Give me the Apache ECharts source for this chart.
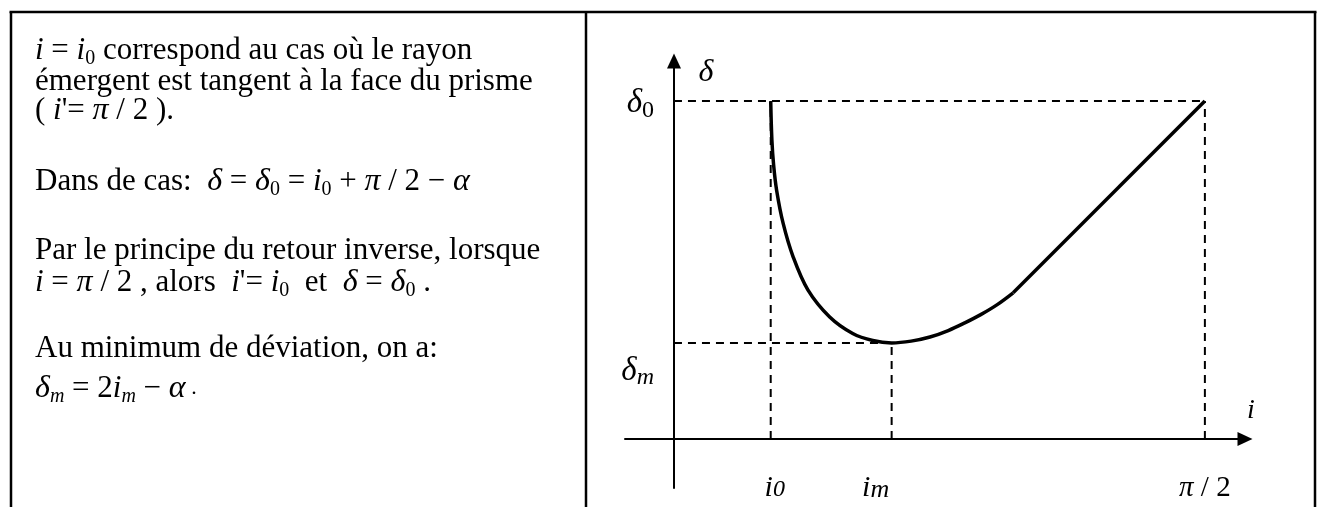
<!DOCTYPE html>
<html>
<head>
<meta charset="utf-8">
<script src="https://cdn.jsdelivr.net/npm/echarts@6/dist/echarts.min.js"></script>
<style>
  html, body { margin: 0; padding: 0; background: #fff; }
  #chart { width: 1317px; height: 507px; }
</style>
</head>
<body>
<div id="chart"></div>
<script>
// Deviation curve delta(i) of a prism, schematic, angles in degrees
const curveI     = [16.4, 16.6, 16.9, 17.4, 18.5, 20.2, 22.7, 26.4, 30.3, 33.7, 36.9, 40.2, 43.4, 46.5, 49.3, 52.0, 54.8, 57.5];
const curveDelta = [57.3, 50.7, 46.4, 42.2, 36.6, 30.9, 25.3, 20.7, 17.9, 16.7, 16.3, 16.6, 17.3, 18.4, 19.7, 21.1, 22.8, 24.8];
// straight branch up to grazing incidence
const lineI     = [57.5, 90];
const lineDelta = [24.8, 57.3];
// remarkable values
const i0 = 16.4, im = 36.9, halfPi = 90;
const delta0 = 57.3, deltaM = 16.3;
const xTicks = [i0, im, halfPi];
const yTicks = [delta0, deltaM];

const SERIF = "'Liberation Serif', 'Times New Roman', serif";

// dashed reference lines
const guides = [
  [[0, delta0], [halfPi, delta0]],
  [[i0, 0], [i0, delta0]],
  [[0, deltaM], [im, deltaM]],
  [[im, 0], [im, deltaM]],
  [[halfPi, 0], [halfPi, delta0]]
];

function near(a, b) { return Math.abs(a - b) < 1e-6; }

// rich text styles for the left-hand paragraph (zrender naming)
const FS = 31;
function tok(size, italic, padTop) {
  return { fontFamily: SERIF, fontSize: size, fontStyle: italic ? 'italic' : 'normal',
           fill: '#000', lineHeight: 40, verticalAlign: 'middle',
           padding: [padTop || 0, 0, 0, 0] };
}
const paraRich = {
  t: tok(FS, false),
  m: tok(FS, true),
  g: tok(32, true),
  s: tok(20, false, 17),
  sm: tok(20, true, 17),
  dot: tok(22, false)
};
const paraLines = [
  ['{m|i} = {m|i}{s|0} {t|correspond au cas où le rayon}', 60],
  ['{t|émergent est tangent à la face du prisme}', 91],
  ['{t|( }{m|i}{t|\'= }{g|π}{t| / 2 ).}', 120],
  ['{t|Dans de cas:  }{g|δ}{t| = }{g|δ}{s|0}{t| = }{m|i}{s|0}{t| + }{g|π}{t| / 2 − }{g|α}', 191],
  ['{t|Par le principe du retour inverse, lorsque}', 260],
  ['{m|i}{t| = }{g|π}{t| / 2 , alors  }{m|i}{t|\'= }{m|i}{s|0}{t|  et  }{g|δ}{t| = }{g|δ}{s|0}{t| .}', 292],
  ['{t|Au minimum de déviation, on a:}', 358],
  ['{g|δ}{sm|m}{t| = 2}{m|i}{sm|m}{t| − }{g|α}{dot| .}', 398]
];

const paraGraphics = paraLines.map(([text, baseline]) => ({
  type: 'text', x: 35, y: baseline - 9.5, silent: true,
  style: { text: text, fontFamily: SERIF, fontSize: FS, fill: '#000',
           align: 'left', verticalAlign: 'middle', lineHeight: 40, rich: paraRich }
}));

// table borders
const border = { stroke: '#000', lineWidth: 2.5 };
const frame = [
  { type: 'line', silent: true, shape: { x1: 9.5, y1: 12, x2: 1316.5, y2: 12 }, style: border },
  { type: 'line', silent: true, shape: { x1: 11, y1: 12, x2: 11, y2: 507 }, style: border },
  { type: 'line', silent: true, shape: { x1: 586, y1: 12, x2: 586, y2: 507 }, style: border },
  { type: 'line', silent: true, shape: { x1: 1315, y1: 12, x2: 1315, y2: 507 }, style: border }
];

// name of the horizontal axis, above its arrow
const xName = {
  type: 'text', x: 1247, y: 411, silent: true,
  style: { text: 'i', fontFamily: SERIF, fontSize: 28, fontStyle: 'italic', fill: '#000',
           align: 'left', verticalAlign: 'middle' }
};

function lab(size, italic, pad, lh) {
  return { fontFamily: SERIF, fontSize: size, fontStyle: italic ? 'italic' : 'normal',
           color: '#000', lineHeight: lh || 30, verticalAlign: 'middle', padding: pad || [0, 0, 0, 0] };
}

const chart = echarts.init(document.getElementById('chart'), null, { renderer: 'canvas' });
chart.setOption({
  animation: false,
  backgroundColor: '#fff',
  grid: { left: 625, right: 72, top: 61, bottom: 19, containLabel: false, outerBoundsMode: 'none' },
  xAxis: {
    type: 'value', min: -8.3, max: 96.8, position: 'bottom', offset: -49,
    splitLine: { show: false }, axisTick: { show: false },
    axisLine: { onZero: false, symbol: ['none', 'triangle'], symbolSize: [14, 15],
                lineStyle: { color: '#000', width: 2 } },
    axisLabel: {
      customValues: xTicks, margin: 34,
      formatter: function (v) {
        if (near(v, i0)) return '{ia|i}{ib|0}';
        if (near(v, im)) return '{ma|i}{mb|m}';
        return '{pa|π}{pb| / 2}';
      },
      rich: {
        ia: lab(30, true, [0, 0, 0, 8]),
        ib: lab(24, true, [4, 0, 0, 0]),
        ma: lab(30, true),
        mb: lab(26, true, [5, 32, 0, 0]),
        pa: lab(29, true),
        pb: lab(29, false)
      }
    }
  },
  yAxis: {
    type: 'value', min: -8.3, max: 64.1, position: 'left', offset: -49,
    splitLine: { show: false }, axisTick: { show: false },
    axisLine: { onZero: false, symbol: ['none', 'triangle'], symbolSize: [14, 15],
                lineStyle: { color: '#000', width: 2 } },
    axisLabel: {
      customValues: yTicks, margin: 20,
      formatter: function (v) {
        return near(v, delta0) ? '{da|δ}{db|0}' : '{ma|δ}{mb|m}';
      },
      rich: {
        da: lab(33, true, [4, 0, 0, 0], 40),
        db: lab(24, false, [19, 0, 0, 0], 40),
        ma: lab(33, true, [56, 0, 0, 0], 40),
        mb: lab(24, true, [70, 0, 0, 0], 40)
      }
    },
    name: 'δ', nameLocation: 'end', nameGap: -30, nameMoveOverlap: false,
    nameTextStyle: { fontFamily: SERIF, fontStyle: 'italic', fontSize: 32, color: '#000',
                     lineHeight: 36, padding: [0, 0, 0, 64] }
  },
  series: [
    ...guides.map(g => ({
      type: 'line', data: g, showSymbol: false, silent: true, z: 1,
      lineStyle: { color: '#000', width: 2, type: [8, 6] }
    })),
    {
      type: 'line', data: curveI.map((x, k) => [x, curveDelta[k]]),
      smooth: 0.35, showSymbol: false, silent: true, z: 3,
      lineStyle: { color: '#000', width: 3.5 }
    },
    {
      type: 'line', data: lineI.map((x, k) => [x, lineDelta[k]]),
      showSymbol: false, silent: true, z: 3,
      lineStyle: { color: '#000', width: 3.5 }
    }
  ],
  graphic: frame.concat(paraGraphics, [xName])
});
</script>
</body>
</html>
